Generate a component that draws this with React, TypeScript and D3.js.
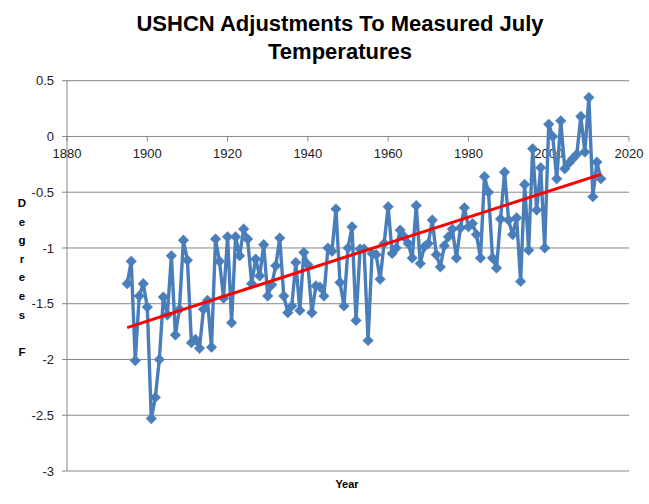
import React from "react";
import * as d3 from "d3";

const years: number[] = d3.range(1895, 2014);
const adjustments: number[] = [
  -1.32, -1.12, -2.01, -1.43, -1.32, -1.53, -2.53, -2.34, -2.0, -1.44,
  -1.6, -1.07, -1.78, -1.55, -0.93, -1.11, -1.85, -1.82, -1.9, -1.55,
  -1.47, -1.89, -0.92, -1.12, -1.45, -0.9, -1.67, -0.9, -1.07, -0.83,
  -0.92, -1.32, -1.1, -1.25, -0.97, -1.43, -1.33, -1.16, -0.91, -1.43,
  -1.58, -1.52, -1.13, -1.56, -1.04, -1.15, -1.58, -1.34, -1.35, -1.43,
  -1.0, -1.03, -0.65, -1.31, -1.52, -1.0, -0.81, -1.65, -1.01, -1.01,
  -1.83, -1.05, -1.06, -1.28, -0.96, -0.63, -1.05, -1.0, -0.84, -0.9,
  -0.96, -1.09, -0.62, -1.14, -0.99, -0.96, -0.75, -1.06, -1.17, -0.98,
  -0.9, -0.83, -1.09, -0.82, -0.64, -0.81, -0.78, -0.88, -1.09, -0.36,
  -0.5, -1.09, -1.18, -0.74, -0.32, -0.75, -0.88, -0.73, -1.3, -0.43,
  -1.02, -0.11, -0.66, -0.28, -1.0, 0.11, 0.0, -0.38, 0.14, -0.29,
  -0.24, -0.2, -0.16, 0.18, -0.14, 0.35, -0.54, -0.23, -0.38,
];
const yTicks: number[] = [0.5, 0, -0.5, -1, -1.5, -2, -2.5, -3];
const xTicks: number[] = [1880, 1900, 1920, 1940, 1960, 1980, 2000, 2020];
const titleLines: string[] = ["USHCN Adjustments To Measured July", "Temperatures"];
const yLabel = "Degrees F";
const xLabel = "Year";

export default function App() {
  const W = 649;
  const H = 504;
  const x = d3.scaleLinear().domain([1880, 2020]).range([67, 629]);
  const y = d3.scaleLinear().domain([-3, 0.5]).range([471, 80.7]);

  const data = years.map((yr, i) => ({ yr, v: adjustments[i] }));
  const line = d3
    .line<{ yr: number; v: number }>()
    .x((d) => x(d.yr))
    .y((d) => y(d.v));

  // linear least-squares trendline
  const mx = d3.mean(years)!;
  const my = d3.mean(adjustments)!;
  const sxy = d3.sum(data, (d) => (d.yr - mx) * (d.v - my));
  const sxx = d3.sum(data, (d) => (d.yr - mx) ** 2);
  const slope = sxy / sxx;
  const icpt = my - slope * mx;
  const x0 = years[0];
  const x1 = years[years.length - 1];
  const trend = [
    { yr: x0, v: icpt + slope * x0 },
    { yr: x1, v: icpt + slope * x1 },
  ];

  const diamond = d3.symbol(d3.symbolSquare, 56)()!;
  const grid = "#878787";
  const blue = "#4A7EBB";
  const font = "'Liberation Sans', Arial, sans-serif";

  return (
    <svg
      width={W}
      height={H}
      style={{ position: "absolute", left: 0, top: 0, background: "#fff" }}
      fontFamily={font}
    >
      <rect x={0} y={0} width={W} height={H} fill="#fff" />
      {titleLines.map((t, i) => (
        <text
          key={i}
          x={340}
          y={31 + i * 27.5}
          textAnchor="middle"
          fontSize={22}
          fontWeight="bold"
          fill="#000"
        >
          {t}
        </text>
      ))}
      {/* gridlines */}
      {yTicks.map((t) => (
        <g key={t}>
          <line x1={62} x2={629} y1={y(t)} y2={y(t)} stroke={grid} strokeWidth={1} />
          <text
            x={54}
            y={y(t)}
            dy="0.35em"
            textAnchor="end"
            fontSize={13}
            fill="#222"
          >
            {t}
          </text>
        </g>
      ))}
      {/* y axis */}
      <line x1={67} x2={67} y1={y(0.5)} y2={y(-3)} stroke={grid} strokeWidth={1} />
      {/* x axis at 0 with ticks */}
      {xTicks.map((t) => (
        <g key={t}>
          <line x1={x(t)} x2={x(t)} y1={y(0)} y2={y(0) + 5} stroke={grid} strokeWidth={1} />
          <text x={x(t)} y={158} textAnchor="middle" fontSize={13} fill="#222">
            {t}
          </text>
        </g>
      ))}
      {/* series */}
      <path d={line(data)!} fill="none" stroke={blue} strokeWidth={3.4} strokeLinejoin="round" />
      {data.map((d) => (
        <path
          key={d.yr}
          d={diamond}
          transform={`translate(${x(d.yr)},${y(d.v)}) rotate(45)`}
          fill={blue}
          stroke={blue}
          strokeWidth={0.5}
        />
      ))}
      <path d={line(trend)!} fill="none" stroke="#FF0000" strokeWidth={3} />
      {/* axis titles */}
      {yLabel.split("").map((c, i) => (
        <text
          key={i}
          x={22}
          y={203 + i * 18.6}
          dy="0.35em"
          textAnchor="middle"
          fontSize={11.5}
          fontWeight="bold"
          fill="#000"
        >
          {c}
        </text>
      ))}
      <text x={347} y={488} textAnchor="middle" fontSize={11} fontWeight="bold" fill="#000">
        {xLabel}
      </text>
    </svg>
  );
}
